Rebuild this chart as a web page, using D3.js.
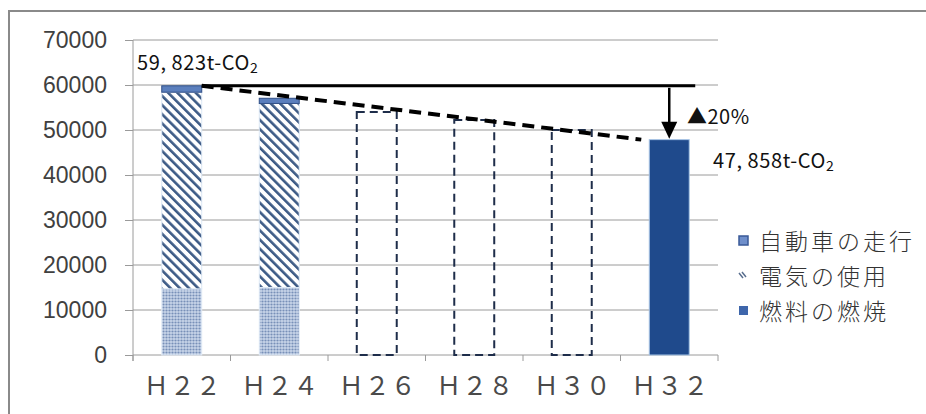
<!DOCTYPE html>
<html>
<head>
<meta charset="utf-8">
<script src="https://cdn.jsdelivr.net/npm/d3@7"></script>
<style>
  body { margin: 0; background: #fff; }
  svg { display: block; }
</style>
</head>
<body>
<div class="chart"></div>
<script>
// data
var categories = ["H22", "H24", "H26", "H28", "H30", "H32"];
var catLabels = ["Ｈ２２", "Ｈ２４", "Ｈ２６", "Ｈ２８", "Ｈ３０", "Ｈ３２"];
var fuel = [14700, 15000, 0, 0, 0, 47858];       // 燃料の燃焼
var electric = [43700, 40900, 0, 0, 0, 0];       // 電気の使用
var car = [1423, 1150, 0, 0, 0, 0];              // 自動車の走行
var target = [null, null, 54000, 52200, 50000, null]; // dashed outline bars
var yTicks = [0, 10000, 20000, 30000, 40000, 50000, 60000, 70000];
var startValue = 59823, endValue = 47858;
var legendNames = ["自動車の走行", "電気の使用", "燃料の燃焼"];

var W = 926, H = 414;

var svg = d3.select(".chart")
    .append("svg")
    .attr("width", W)
    .attr("height", H);

var defs = svg.append("defs");

// dotted fill for fuel (H22, H24)
var dots = defs.append("pattern")
    .attr("id", "dots")
    .attr("patternUnits", "userSpaceOnUse")
    .attr("width", 3).attr("height", 3);
dots.append("rect").attr("width", 3).attr("height", 3).attr("fill", "#c9d6ea");
dots.append("circle").attr("cx", 1.5).attr("cy", 1.5).attr("r", 1.1).attr("fill", "#7890b8");

// diagonal hatch for electricity
var hatch = defs.append("pattern")
    .attr("id", "hatch")
    .attr("patternUnits", "userSpaceOnUse")
    .attr("width", 6.5).attr("height", 6.5)
    .attr("patternTransform", "rotate(-45)");
hatch.append("rect").attr("width", 6.5).attr("height", 6.5).attr("fill", "#fff");
hatch.append("rect").attr("x", 0).attr("width", 2.6).attr("height", 6.5).attr("fill", "#3d5b86");

// outer frame
svg.append("rect")
    .attr("x", 9).attr("y", 11)
    .attr("width", W).attr("height", H)
    .attr("fill", "none")
    .attr("stroke", "#8a8a8a")
    .attr("stroke-width", 2);

var x = d3.scaleBand()
    .domain(categories)
    .range([133, 718])
    .paddingInner(0.59)
    .paddingOuter(0.295);

var y = d3.scaleLinear()
    .domain([0, 70000])
    .range([355, 40]);

// gridlines
svg.append("g")
    .selectAll("line")
    .data(yTicks.slice(1))
    .enter()
    .append("line")
    .attr("x1", 133).attr("x2", 718)
    .attr("y1", function (d) { return y(d); })
    .attr("y2", function (d) { return y(d); })
    .attr("stroke", "#9a9a9a")
    .attr("stroke-width", 1);

// y axis
var yAxis = svg.append("g")
    .attr("transform", "translate(133,0)")
    .call(d3.axisLeft(y).tickValues(yTicks).tickSize(8).tickPadding(18).tickFormat(d3.format("d")));
yAxis.select(".domain").attr("stroke", "#9a9a9a").attr("d", "M0," + y(70000) + "V" + (y(0) + 6));
yAxis.selectAll(".tick line").attr("stroke", "#9a9a9a");
yAxis.selectAll(".tick text")
    .attr("fill", "#404040")
    .style("font-family", "'Liberation Sans', Arial, sans-serif")
    .style("font-size", "23px");

// x axis
var xAxis = svg.append("g")
    .attr("transform", "translate(0," + y(0) + ")");
xAxis.append("line")
    .attr("x1", 133).attr("x2", 718)
    .attr("stroke", "#9a9a9a");
xAxis.selectAll(".xt")
    .data(d3.range(categories.length + 1))
    .enter()
    .append("line")
    .attr("class", "xt")
    .attr("x1", function (i) { return 133 + i * x.step(); })
    .attr("x2", function (i) { return 133 + i * x.step(); })
    .attr("y1", 0).attr("y2", 6)
    .attr("stroke", "#9a9a9a");
xAxis.selectAll("text")
    .data(categories)
    .enter()
    .append("text")
    .attr("x", function (d) { return x(d) + x.bandwidth() / 2 + 1; })
    .attr("y", 40)
    .attr("text-anchor", "middle")
    .attr("fill", "#4a4a4a")
    .style("font-family", "'Noto Sans CJK JP', sans-serif")
    .style("font-size", "25px")
    .style("letter-spacing", "1px")
    .text(function (d, i) { return catLabels[i]; });

var bw = x.bandwidth();

// stacked bars
var rows = categories.map(function (c, i) {
    return { cat: c, fuel: fuel[i], electric: electric[i], car: car[i] };
});

var g = svg.append("g");
rows.forEach(function (d, i) {
    if (d.fuel > 0) {
        g.append("rect")
            .attr("x", x(d.cat))
            .attr("y", y(d.fuel))
            .attr("width", bw)
            .attr("height", y(0) - y(d.fuel))
            .attr("fill", d.electric > 0 ? "url(#dots)" : "#1f4a8c")
            .attr("stroke", d.electric > 0 ? "#e3ecf7" : "#a9c6e6")
            .attr("stroke-width", 1);
    }
    if (d.electric > 0) {
        g.append("rect")
            .attr("x", x(d.cat))
            .attr("y", y(d.fuel + d.electric))
            .attr("width", bw)
            .attr("height", y(d.fuel) - y(d.fuel + d.electric))
            .attr("fill", "url(#hatch)")
            .attr("stroke", "#dce8f5")
            .attr("stroke-width", 1);
    }
    if (d.car > 0) {
        g.append("rect")
            .attr("x", x(d.cat))
            .attr("y", y(d.fuel + d.electric + d.car))
            .attr("width", bw)
            .attr("height", y(d.fuel + d.electric) - y(d.fuel + d.electric + d.car))
            .attr("fill", "#5b7fbd")
            .attr("stroke", "#2f4e86")
            .attr("stroke-width", 1);
    }
});

// dashed target bars
g.selectAll(".target")
    .data(categories.filter(function (c, i) { return target[i] != null; }))
    .enter()
    .append("rect")
    .attr("class", "target")
    .attr("x", function (c) { return x(c); })
    .attr("y", function (c) { return y(target[categories.indexOf(c)]); })
    .attr("width", bw)
    .attr("height", function (c) { return y(0) - y(target[categories.indexOf(c)]); })
    .attr("fill", "none")
    .attr("stroke", "#1e2d4a")
    .attr("stroke-width", 2)
    .attr("stroke-dasharray", "8,5");

// reference line at the H22 level
var x0 = x("H22") + bw, xEnd = x("H32") + bw / 2;
svg.append("line")
    .attr("x1", x0).attr("x2", x("H32") + bw + 6)
    .attr("y1", y(startValue)).attr("y2", y(startValue))
    .attr("stroke", "#000")
    .attr("stroke-width", 3);

// dashed trend line
svg.append("line")
    .attr("x1", x0).attr("x2", x("H32") - 8)
    .attr("y1", y(startValue)).attr("y2", y(endValue))
    .attr("stroke", "#000")
    .attr("stroke-width", 4)
    .attr("stroke-dasharray", "12,7");

// arrow down to the H32 bar
svg.append("line")
    .attr("x1", xEnd).attr("x2", xEnd)
    .attr("y1", y(startValue) + 2).attr("y2", y(endValue) - 14)
    .attr("stroke", "#000")
    .attr("stroke-width", 2.5);
svg.append("path")
    .attr("d", "M" + (xEnd - 8) + "," + (y(endValue) - 18) +
        "L" + (xEnd + 8) + "," + (y(endValue) - 18) +
        "L" + xEnd + "," + (y(endValue) - 1) + "Z")
    .attr("fill", "#000");

// annotations
var jpFont = "'Noto Sans CJK JP', sans-serif";
function co2Label(xp, yp, num) {
    var parts = num.split(",");
    var t = svg.append("text")
        .attr("x", xp).attr("y", yp)
        .attr("fill", "#111")
        .style("font-family", jpFont)
        .style("font-size", "20px")
        .style("letter-spacing", "0.6px");
    t.append("tspan").text(parts[0] + ",");
    t.append("tspan").attr("dx", 5).text(parts[1] + "t-CO");
    t.append("tspan").attr("dy", 3).style("font-size", "14px").text("2");
}
co2Label(137, 70, d3.format(",")(startValue));
co2Label(713, 168, d3.format(",")(endValue));

svg.append("text")
    .attr("x", 687).attr("y", 124)
    .attr("fill", "#111")
    .style("font-family", jpFont)
    .style("font-size", "20px")
    .style("letter-spacing", "0.5px")
    .text("▲20%");

// legend
var legend = svg.append("g").attr("transform", "translate(739,0)");
var legY = [241, 276, 311];
legendNames.forEach(function (name, i) {
    var row = legend.append("g").attr("transform", "translate(0," + legY[i] + ")");
    if (i === 0) {
        row.append("rect").attr("x", 0).attr("y", -5).attr("width", 9).attr("height", 9)
            .attr("fill", "#6f8fcb").attr("stroke", "#3a5a98").attr("stroke-width", 1.5);
    } else if (i === 1) {
        row.append("path").attr("d", "M0,-3L4,2M3,-4L7,1")
            .attr("stroke", "#5a6f8f").attr("stroke-width", 1.5);
    } else {
        row.append("rect").attr("x", 0).attr("y", -5).attr("width", 9).attr("height", 9)
            .attr("fill", "#3e66ab");
    }
    row.append("text")
        .attr("x", 20).attr("y", 9)
        .attr("fill", "#333")
        .style("font-family", jpFont)
        .style("font-size", "23px")
        .style("font-weight", "300")
        .style("letter-spacing", "3px")
        .text(name);
});
</script>
</body>
</html>
